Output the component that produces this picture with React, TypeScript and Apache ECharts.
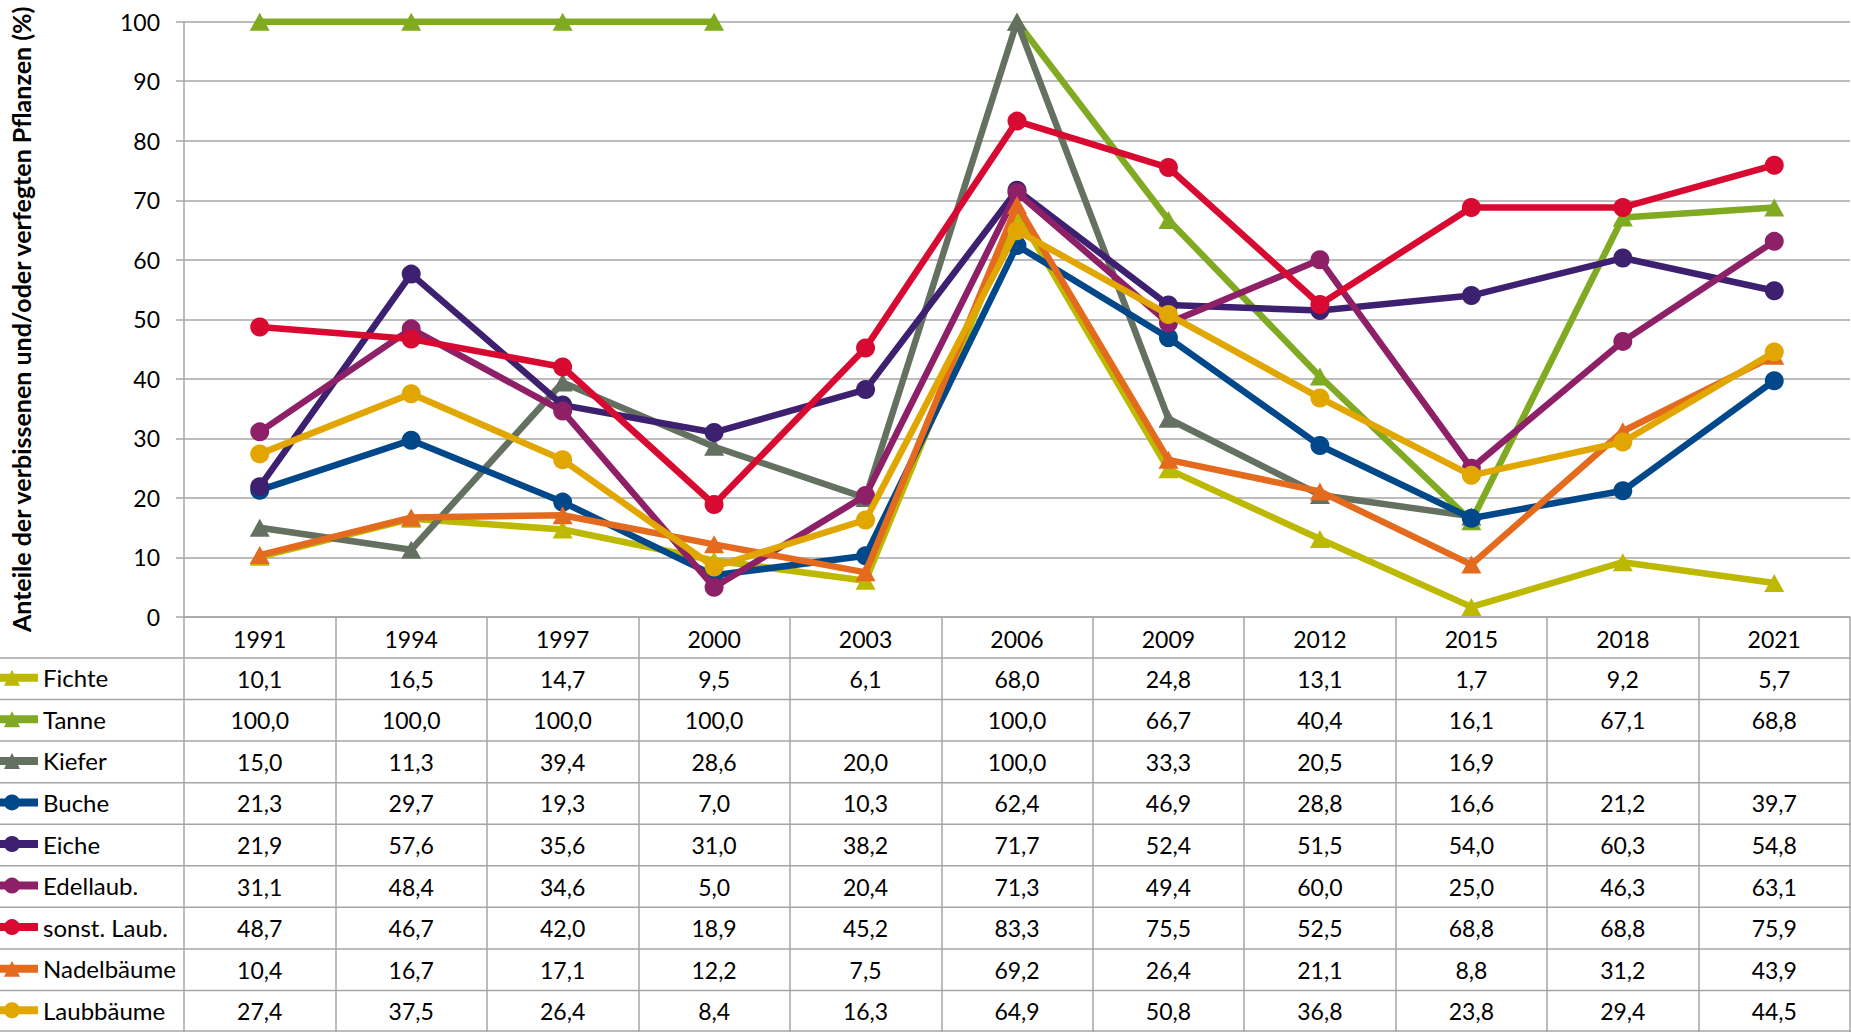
import React, { useEffect, useRef } from "react";
import * as echarts from "echarts";

const years = ["1991", "1994", "1997", "2000", "2003", "2006", "2009", "2012", "2015", "2018", "2021"];
const fichte = [10.1, 16.5, 14.7, 9.5, 6.1, 68.0, 24.8, 13.1, 1.7, 9.2, 5.7];
const tanne = [100.0, 100.0, 100.0, 100.0, null, 100.0, 66.7, 40.4, 16.1, 67.1, 68.8];
const kiefer = [15.0, 11.3, 39.4, 28.6, 20.0, 100.0, 33.3, 20.5, 16.9, null, null];
const buche = [21.3, 29.7, 19.3, 7.0, 10.3, 62.4, 46.9, 28.8, 16.6, 21.2, 39.7];
const eiche = [21.9, 57.6, 35.6, 31.0, 38.2, 71.7, 52.4, 51.5, 54.0, 60.3, 54.8];
const edellaub = [31.1, 48.4, 34.6, 5.0, 20.4, 71.3, 49.4, 60.0, 25.0, 46.3, 63.1];
const sonstLaub = [48.7, 46.7, 42.0, 18.9, 45.2, 83.3, 75.5, 52.5, 68.8, 68.8, 75.9];
const nadelbaeume = [10.4, 16.7, 17.1, 12.2, 7.5, 69.2, 26.4, 21.1, 8.8, 31.2, 43.9];
const laubbaeume = [27.4, 37.5, 26.4, 8.4, 16.3, 64.9, 50.8, 36.8, 23.8, 29.4, 44.5];

const seriesNames = ["Fichte", "Tanne", "Kiefer", "Buche", "Eiche", "Edellaub.", "sonst. Laub.", "Nadelbäume", "Laubbäume"];
const seriesValues = [fichte, tanne, kiefer, buche, eiche, edellaub, sonstLaub, nadelbaeume, laubbaeume];
const seriesColors = ["#BDB800", "#7FAA22", "#647060", "#00488A", "#3D2170", "#8E2068", "#D90A31", "#E46A1E", "#E2A600"];
const seriesSymbols = ["triangle", "triangle", "triangle", "circle", "circle", "circle", "circle", "triangle", "circle"];

const yTitle = "Anteile der verbissenen und/oder verfegten Pflanzen (%)";

export default function App() {
  const ref = useRef<HTMLDivElement>(null);
  useEffect(() => {
    const chart = echarts.init(ref.current!, null, { renderer: "svg" });
    const W = 1851;
    const H = 1032;
    const gridLeft = 184;
    const gridTop = 21.7;
    const axisY = 617;
    const tableTop = 658;
    const rowH = (H - tableTop) / 9;
    const font = "Lato";
    const grey = "#A6A6A6";

    const option: any = {
      animation: false,
      backgroundColor: "#FFFFFF",
      textStyle: { fontFamily: font },
      grid: { left: gridLeft, right: 1, top: gridTop, bottom: H - axisY, containLabel: false },
      legend: seriesNames.map((name, i) => ({
        orient: "vertical",
        left: -18,
        top: tableTop + (i + 0.5) * rowH - 13,
        padding: 0,
        itemWidth: 52,
        itemHeight: 20,
        lineStyle: { width: 8 },
        textStyle: { fontFamily: font, fontSize: 24, color: "#000" },
        data: [name],
      })),
      xAxis: {
        type: "category",
        data: years,
        boundaryGap: true,
        axisLine: { show: true, lineStyle: { color: grey, width: 1.5 } },
        axisTick: { show: true, length: H - axisY, interval: 0, lineStyle: { color: grey, width: 1.5 } },
        axisLabel: { fontFamily: font, fontSize: 23, color: "#000", margin: 10, interval: 0 },
      },
      yAxis: {
        type: "value",
        min: 0,
        max: 100,
        interval: 10,
        name: yTitle,
        nameLocation: "middle",
        nameGap: 151,
        nameTextStyle: { fontFamily: font, fontSize: 25, fontWeight: "bold", color: "#000" },
        axisLine: { show: true, lineStyle: { color: grey, width: 1.5 } },
        axisTick: { show: true, length: 8, lineStyle: { color: grey, width: 1.5 } },
        axisLabel: { fontFamily: font, fontSize: 23, color: "#000", margin: 24 },
        splitLine: { show: true, lineStyle: { color: grey, width: 1.5 } },
      },
      series: seriesNames.map((name, i) => ({
        name,
        type: "line",
        data: seriesValues[i],
        connectNulls: false,
        clip: false,
        symbol: seriesSymbols[i],
        symbolSize: seriesSymbols[i] === "triangle" ? [20, 18] : 19,
        lineStyle: { color: seriesColors[i], width: 6.5 },
        itemStyle: { color: seriesColors[i] },
        z: 2 + i,
      })),
    };
    chart.setOption(option);

    const graphics: any[] = [];
    for (let i = 0; i <= 9; i++) {
      const y = Math.min(tableTop + i * rowH, H - 1);
      graphics.push({
        type: "line",
        silent: true,
        shape: { x1: 0, y1: y, x2: W, y2: y },
        style: { stroke: grey, lineWidth: 1.5 },
      });
    }
    seriesValues.forEach((arr, r) => {
      arr.forEach((v, c) => {
        if (v == null) return;
        const x = chart.convertToPixel({ xAxisIndex: 0 }, c) as number;
        graphics.push({
          type: "text",
          silent: true,
          x,
          y: tableTop + (r + 0.5) * rowH,
          style: {
            text: v.toFixed(1).replace(".", ","),
            fontFamily: font,
            fontSize: 23,
            fill: "#000",
            align: "center",
            verticalAlign: "middle",
          },
        });
      });
    });
    chart.setOption({ graphic: graphics });

    return () => chart.dispose();
  }, []);

  return <div ref={ref} style={{ position: "absolute", left: 0, top: 0, width: 1851, height: 1032 }} />;
}
